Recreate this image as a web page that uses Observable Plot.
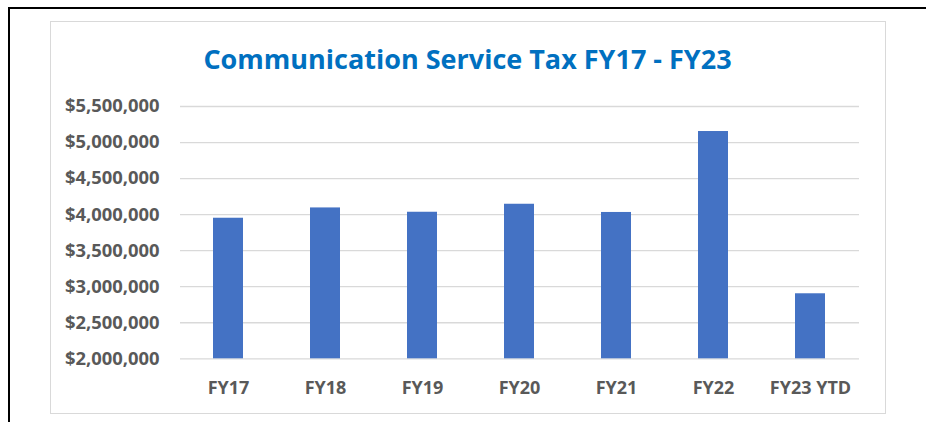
<!DOCTYPE html>
<html>
<head>
<meta charset="utf-8">
<script src="https://cdn.jsdelivr.net/npm/d3@7"></script>
<script src="https://cdn.jsdelivr.net/npm/@observablehq/plot@0.6"></script>
<style>
  html, body { margin: 0; padding: 0; background: #fff; width: 926px; height: 422px; overflow: hidden; }
  #frame { position: absolute; left: 8px; top: 7px; width: 1000px; height: 500px;
           border-top: 2px solid #000; border-left: 2px solid #000; }
  #box { position: absolute; left: 50px; top: 21px; width: 834px; height: 391px;
         border: 1.5px solid #d9d9d9; }
  #title { position: absolute; left: 50px; top: 45px; width: 835px; text-align: center;
           font-family: "Open Sans", sans-serif; font-weight: 700; font-size: 27px; line-height: 27px;
           color: #0070c0; white-space: nowrap; }
  #chart { position: absolute; left: 50px; top: 80px; }
</style>
</head>
<body>
<div id="frame"></div>
<div id="box"></div>
<div id="title">Communication Service Tax FY17 - FY23</div>
<div id="chart"></div>
<script>
const categories = ["FY17", "FY18", "FY19", "FY20", "FY21", "FY22", "FY23 YTD"];
const values = [3950000, 4093000, 4033000, 4144000, 4030000, 5153000, 2902000];
const yTicks = [2000000, 2500000, 3000000, 3500000, 4000000, 4500000, 5000000, 5500000];

const data = categories.map((c, i) => ({category: c, value: values[i]}));

const chart = Plot.plot({
  width: 835,
  height: 333,
  marginLeft: 130,
  marginRight: 26,
  marginTop: 26,
  marginBottom: 54.7,
  style: { fontFamily: "'Open Sans', sans-serif", fontWeight: 700, fontSize: "18px", color: "#595959", background: "transparent" },
  x: { domain: categories, paddingInner: 0.69, paddingOuter: 0.345, label: null },
  y: { domain: [2000000, 5500000], label: null },
  marks: [
    Plot.ruleY(yTicks, { stroke: "#d9d9d9", strokeWidth: 1.3 }),
    Plot.barY(data, { x: "category", y1: 2000000, y2: "value", fill: "#4472c4" }),
    Plot.axisY({ ticks: yTicks, tickFormat: d3.format("$,"), tickSize: 0, tickPadding: 21,
                 fill: "#595959", fontSize: 18.4, fontWeight: 700, label: null }),
    Plot.axisX({ tickSize: 0, tickPadding: 22, fill: "#595959", fontSize: 18, fontWeight: 700, label: null })
  ]
});
document.getElementById("chart").appendChild(chart);
</script>
</body>
</html>
